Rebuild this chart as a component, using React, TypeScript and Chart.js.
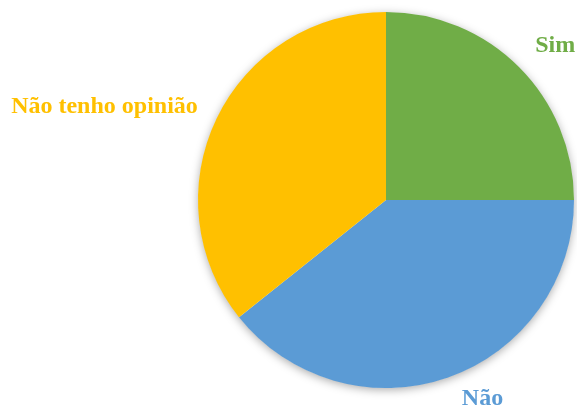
import React, { useEffect, useRef } from "react";
import { Chart, registerables } from "chart.js";

Chart.register(...registerables);

const categories = ["Sim", "Não", "Não tenho opinião"];
const values = [7, 11, 10];
const colors = ["#70AD47", "#5B9BD5", "#FFC000"];

// label placement tweaks (pixels) relative to the computed outside-end anchor
const labelNudges = [
  [8, -3],
  [21, -7],
  [-10, -1],
];

const shadowPlugin = {
  id: "pieShadow",
  beforeDatasetsDraw(chart: any) {
    const meta = chart.getDatasetMeta(0);
    const arc = meta.data[0];
    if (!arc) return;
    const { x, y, outerRadius } = arc.getProps(["x", "y", "outerRadius"], true);
    const ctx = chart.ctx;
    ctx.save();
    ctx.shadowColor = "rgba(0,0,0,0.35)";
    ctx.shadowBlur = 10;
    ctx.shadowOffsetX = 0;
    ctx.shadowOffsetY = 2;
    ctx.fillStyle = "#ffffff";
    ctx.beginPath();
    ctx.arc(x, y, outerRadius - 0.5, 0, Math.PI * 2);
    ctx.fill();
    ctx.restore();
  },
};

const labelPlugin = {
  id: "pieLabels",
  afterDatasetsDraw(chart: any) {
    const meta = chart.getDatasetMeta(0);
    const ctx = chart.ctx;
    ctx.save();
    ctx.font = "bold 24px 'Liberation Serif', 'Times New Roman', serif";
    ctx.textAlign = "center";
    ctx.textBaseline = "alphabetic";
    const gap = 20;
    const capH = 16;
    meta.data.forEach((el: any, i: number) => {
      const { x, y, startAngle, endAngle, outerRadius } = el.getProps(
        ["x", "y", "startAngle", "endAngle", "outerRadius"],
        true
      );
      const mid = (startAngle + endAngle) / 2;
      const c = Math.cos(mid);
      const s = Math.sin(mid);
      const text = categories[i];
      const w = ctx.measureText(text).width;
      const ax = x + c * (outerRadius + gap);
      const ay = y + s * (outerRadius + gap);
      const cx = ax + (c * w) / 2 + labelNudges[i][0];
      const cy = ay + (s * capH) / 2 + labelNudges[i][1];
      ctx.fillStyle = colors[i];
      ctx.fillText(text, cx, cy + capH / 2);
    });
    ctx.restore();
  },
};

export default function App() {
  const ref = useRef<HTMLCanvasElement | null>(null);
  useEffect(() => {
    if (!ref.current) return;
    const chart = new Chart(ref.current, {
      type: "pie",
      data: {
        labels: categories,
        datasets: [
          {
            data: values,
            backgroundColor: colors,
            borderWidth: 0,
          },
        ],
      },
      options: {
        responsive: false,
        animation: false,
        layout: { padding: { left: 198, top: 12, right: 3, bottom: 27 } },
        plugins: {
          legend: { display: false },
          tooltip: { enabled: false },
        },
      },
      plugins: [shadowPlugin, labelPlugin],
    });
    return () => chart.destroy();
  }, []);
  return (
    <div style={{ position: "fixed", left: 0, top: 0, width: 577, height: 415, background: "#fff" }}>
      <canvas ref={ref} width={577} height={415} style={{ display: "block" }} />
    </div>
  );
}
